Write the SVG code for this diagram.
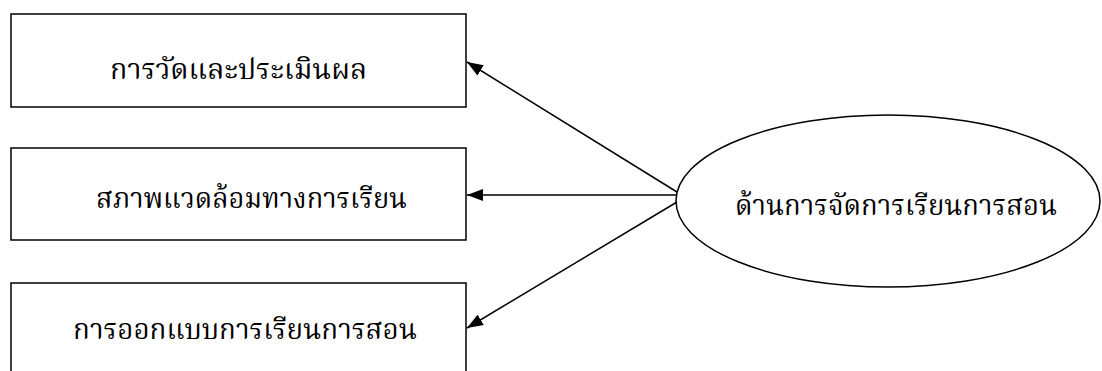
<svg xmlns="http://www.w3.org/2000/svg" width="1102" height="371" viewBox="0 0 1102 371">
<style>
.box{fill:#fff;stroke:#000;stroke-width:1.5}
.lbl{font-family:"Noto Serif Thai","Noto Sans Thai","Noto Sans","DejaVu Sans",sans-serif;font-size:28px;fill:#000;text-anchor:middle}
.edge{stroke:#000;stroke-width:1.5;fill:none;marker-end:url(#ah)}
</style>
<defs>
<marker id="ah" viewBox="0 0 16 12" refX="16" refY="6" markerWidth="16" markerHeight="12" markerUnits="userSpaceOnUse" orient="auto">
<path d="M0,0 L16,6 L0,12 z" fill="#000"/>
</marker>
</defs>
<rect width="1102" height="371" fill="#fff"/>
<g id="n1"><rect class="box" x="11" y="14" width="455" height="93"/><text class="lbl" x="238.5" y="79" textLength="257" lengthAdjust="spacingAndGlyphs">การวัดและประเมินผล</text></g>
<g id="n2"><rect class="box" x="11" y="148" width="455" height="92"/><text class="lbl" x="251.5" y="208" textLength="311" lengthAdjust="spacingAndGlyphs">สภาพแวดล้อมทางการเรียน</text></g>
<g id="n3"><rect class="box" x="11" y="283" width="455" height="100"/><text class="lbl" x="245" y="339" textLength="344" lengthAdjust="spacingAndGlyphs">การออกแบบการเรียนการสอน</text></g>
<g id="n4"><ellipse class="box" cx="888" cy="201" rx="212" ry="86"/><text class="lbl" x="896" y="215" textLength="322" lengthAdjust="spacingAndGlyphs">ด้านการจัดการเรียนการสอน</text></g>
<g id="edges">
<line class="edge" x1="677" y1="192" x2="467" y2="62"/>
<line class="edge" x1="677" y1="195" x2="467" y2="195"/>
<line class="edge" x1="677" y1="202" x2="467" y2="328"/>
</g>
</svg>
